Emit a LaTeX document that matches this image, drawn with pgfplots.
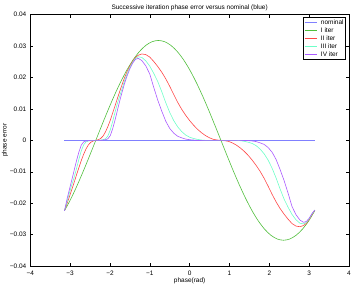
\documentclass[border=0pt]{standalone}
\usepackage{pgfplots}
\pgfplotsset{compat=1.18}
\usepackage{pgfplotstable}
\usepackage{fontspec}
\setmainfont{Liberation Sans}
\definecolor{cnom}{RGB}{128,128,255}
\definecolor{cI}{RGB}{80,190,60}
\definecolor{cII}{RGB}{255,70,70}
\definecolor{cIII}{RGB}{110,255,200}
\definecolor{cIV}{RGB}{170,90,255}

\pgfplotstableread{
x y
-3.1416 -0.0224
-2.9845 -0.01869
-2.8274 -0.01444
-2.6704 -0.00983
-2.5133 -0.00497
-2.3562 0
-2.1991 0.00497
-2.0420 0.00983
-1.8850 0.01444
-1.7279 0.01869
-1.5708 0.02249
-1.4137 0.02573
-1.2566 0.02833
-1.0996 0.03024
-0.9425 0.03141
-0.7854 0.0318
-0.6283 0.03141
-0.4712 0.03024
-0.3142 0.02833
-0.1571 0.02573
0 0.02249
0.1571 0.01869
0.3142 0.01444
0.4712 0.00983
0.6283 0.00497
0.7854 0
0.9425 -0.00497
1.0996 -0.00983
1.2566 -0.01444
1.4137 -0.01869
1.5708 -0.02249
1.7279 -0.02573
1.8850 -0.02833
2.0420 -0.03024
2.1991 -0.03141
2.3562 -0.0318
2.5133 -0.03141
2.6704 -0.03024
2.8274 -0.02833
2.9845 -0.02573
3.1416 -0.0224
}\greentab

\pgfplotstableread{
x red cyan purple
-3.1416 -0.0224 -0.0224 -0.0224
-3.08 -0.0202 -0.0196 -0.0188
-3.02 -0.0180 -0.0168 -0.0157
-2.96 -0.0157 -0.0142 -0.0127
-2.90 -0.0134 -0.0118 -0.0096
-2.84 -0.0110 -0.0090 -0.0065
-2.78 -0.0087 -0.0060 -0.0037
-2.72 -0.0064 -0.0033 -0.0015
-2.66 -0.0044 -0.0014 -0.0005
-2.60 -0.0027 -0.0005 -0.0002
-2.54 -0.0014 -0.0002 -0.0001
-2.48 -0.0006 -0.0001 0
-2.42 -0.0002 0 0
-2.3562 0 0 0
-2.2924 0.0002 0 0
-2.2324 0.0006 0.0001 0
-2.1724 0.0014 0.0002 0.0001
-2.1124 0.0027 0.0005 0.0002
-2.0524 0.0044 0.0014 0.0005
-1.9924 0.0064 0.0033 0.0015
-1.9324 0.0087 0.0060 0.0037
-1.8724 0.0110 0.0090 0.0065
-1.8124 0.0134 0.0118 0.0096
-1.7524 0.0157 0.0142 0.0127
-1.6924 0.0179 0.0166 0.0155
-1.6324 0.0200 0.0190 0.0182
-1.5708 0.0219 0.0211 0.0205
-1.50 0.0237 0.0232 0.0228
-1.43 0.0252 0.0249 0.0246
-1.36 0.0264 0.0261 0.0258
-1.29 0.0271 0.0266 0.0261
-1.20 0.0275 0.0264 0.0254
-1.10 0.0273 0.0253 0.0237
-1.00 0.0265 0.0236 0.0211
-0.90 0.0251 0.0213 0.0168
-0.80 0.0235 0.0187 0.0128
-0.70 0.0217 0.0155 0.0093
-0.60 0.0196 0.0120 0.0061
-0.50 0.0172 0.0089 0.0038
-0.40 0.0146 0.0063 0.0023
-0.30 0.0121 0.0043 0.0013
-0.20 0.0099 0.0028 0.0008
-0.10 0.0080 0.0017 0.0004
0.00 0.0063 0.0010 0.0002
0.10 0.0048 0.0006 0.0001
0.20 0.0035 0.0003 0
0.30 0.0024 0.0001 0
0.40 0.0015 0 0
0.50 0.0008 0 0
0.60 0.0003 0 0
0.70 0.0001 0 0
0.7854 0 0 0
0.8708 -0.0001 0 0
0.9708 -0.0003 0 0
1.0708 -0.0008 0 0
1.1708 -0.0015 0 0
1.2708 -0.0024 -0.0001 0
1.3708 -0.0035 -0.0003 0
1.4708 -0.0048 -0.0006 -0.0001
1.5708 -0.0063 -0.0010 -0.0002
1.6708 -0.0080 -0.0017 -0.0004
1.7708 -0.0099 -0.0028 -0.0008
1.8708 -0.0121 -0.0043 -0.0013
1.9708 -0.0146 -0.0063 -0.0023
2.0708 -0.0172 -0.0089 -0.0038
2.1708 -0.0196 -0.0120 -0.0061
2.2708 -0.0217 -0.0155 -0.0093
2.3708 -0.0235 -0.0187 -0.0128
2.4708 -0.0251 -0.0213 -0.0168
2.5708 -0.0265 -0.0236 -0.0211
2.6708 -0.0273 -0.0253 -0.0237
2.7708 -0.0275 -0.0264 -0.0254
2.8608 -0.0271 -0.0266 -0.0261
2.9308 -0.0264 -0.0261 -0.0258
3.0008 -0.0252 -0.0250 -0.0248
3.0708 -0.0237 -0.0235 -0.0233
3.1416 -0.0222 -0.0222 -0.0222
}\iters

\begin{document}
\begin{tikzpicture}
\useasboundingbox (0,0) rectangle (354bp,286bp);
\begin{axis}[
  at={(30.3bp,20bp)}, anchor=south west,
  scale only axis, width=318.7bp, height=251.3bp,
  xmin=-4, xmax=4, ymin=-0.04, ymax=0.04,
  xtick={-4,-3,-2,-1,0,1,2,3,4},
  xticklabels={−4,−3,−2,−1,0,1,2,3,4},
  ytick={-0.04,-0.03,-0.02,-0.01,0,0.01,0.02,0.03,0.04},
  yticklabels={−0.04,−0.03,−0.02,−0.01,0,0.01,0.02,0.03,0.04},
  scaled y ticks=false, scaled x ticks=false,
  tick align=inside, major tick length=3bp,
  tick style={black, line width=0.5bp},
  axis line style={black, line width=0.8bp},
  ticklabel style={font=\fontsize{6.5}{7}\selectfont},
  xticklabel style={anchor=center, yshift=-7bp},
  yticklabel style={anchor=east, xshift=-0.5bp},
  title={Successive iteration phase error versus nominal (blue)},
  every axis title/.style={at={(axis description cs:0.5,1)}, anchor=center, yshift=6.8bp, font=\fontsize{6.5}{7}\selectfont},
  xlabel={phase(rad)},
  every axis x label/.style={at={(axis description cs:0.5,0)}, anchor=center, yshift=-15bp, font=\fontsize{6.5}{7}\selectfont},
  ylabel={phase error},
  every axis y label/.style={at={(axis description cs:-0.0794,0.5)}, anchor=center, rotate=90, font=\fontsize{6.5}{7}\selectfont},
  every axis plot/.append style={line width=0.6bp},
  legend cell align=left,
  legend image code/.code={\draw[#1] (0bp,0bp) -- (12bp,0bp);},
  legend style={at={(1,1)}, anchor=north east, xshift=-3bp, yshift=-2.6bp,
    draw=black, line width=0.7bp, fill=white,
    font=\fontsize{6.5}{7}\selectfont,
    inner sep=1.5bp, row sep=1bp, column sep=3.5bp,
    nodes={inner sep=0.5bp, text height=4.8bp, text depth=1.2bp}},
]
\addplot[cnom] coordinates {(-3.1416,0) (3.1416,0)};
\addlegendentry{nominal}
\addplot[cI, smooth] table[x=x, y=y] {\greentab};
\addlegendentry{I iter}
\addplot[cII] table[x=x, y=red] {\iters};
\addlegendentry{II iter}
\addplot[cIII] table[x=x, y=cyan] {\iters};
\addlegendentry{III iter}
\addplot[cIV] table[x=x, y=purple] {\iters};
\addlegendentry{IV iter}
\end{axis}
\end{tikzpicture}
\end{document}
